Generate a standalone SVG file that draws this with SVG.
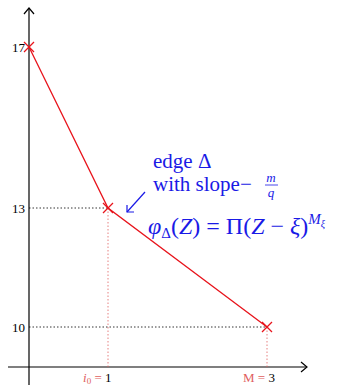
<svg xmlns="http://www.w3.org/2000/svg" width="346" height="385" viewBox="0 0 346 385">
<style>
.ax{stroke:#000;stroke-width:1.2;fill:none}
.dot{stroke:#000;stroke-width:0.8;stroke-dasharray:1.5 2;fill:none}
.rdot{stroke:#e06060;stroke-width:0.8;stroke-dasharray:1.5 2;fill:none}
.red{stroke:#e8141c;stroke-width:1.3;fill:none}
text{font-family:'Liberation Serif','DejaVu Serif',serif}
.tk{font-size:13px;fill:#000}
.bl{fill:#1a1ae6}
.it{font-style:italic}
</style>
<g id="connectors">
<line class="ax" x1="29" y1="8" x2="29" y2="385"/>
<polyline class="ax" points="24,14 29,8 34,14"/>
<line class="ax" x1="8" y1="367" x2="307" y2="367"/>
<polyline class="ax" points="301,362 307,367 301,372"/>
<line class="dot" x1="29" y1="208" x2="108" y2="208"/>
<line class="dot" x1="29" y1="327" x2="267" y2="327"/>
<line class="rdot" x1="108" y1="208" x2="108" y2="367"/>
<line class="rdot" x1="267" y1="327" x2="267" y2="367"/>
<polyline class="red" points="29,47 108,208 267,327"/>
<line stroke="#1a1ae6" stroke-width="1.2" x1="145" y1="192" x2="127" y2="212"/>
<polyline stroke="#1a1ae6" stroke-width="1.2" fill="none" points="127,205 127,212 134,212"/>
</g>
<g id="p17"><path class="red" d="M24,42 L34,52 M34,42 L24,52"/><text class="tk" x="25" y="52" text-anchor="end">17</text></g>
<g id="p13"><path class="red" d="M103,203 L113,213 M113,203 L103,213"/><text class="tk" x="25" y="213" text-anchor="end">13</text></g>
<g id="p10"><path class="red" d="M262,322 L272,332 M272,322 L262,332"/><text class="tk" x="25" y="332" text-anchor="end">10</text></g>
<g id="xlabels">
<text class="tk" x="83" y="382"><tspan fill="#e06060" font-style="italic">i</tspan><tspan fill="#e06060" font-size="9" dy="2">0</tspan><tspan fill="#e06060" dy="-2"> = </tspan><tspan>1</tspan></text>
<text class="tk" x="243" y="382"><tspan fill="#e06060">M = </tspan><tspan>3</tspan></text>
</g>
<g id="label">
<text class="bl" x="153" y="168" font-size="21">edge Δ</text>
<text class="bl" x="153" y="191" font-size="21">with slope−</text>
<text class="bl it" x="271" y="182" font-size="13" text-anchor="middle">m</text>
<line x1="265" y1="185" x2="278" y2="185" stroke="#1a1ae6" stroke-width="0.8"/>
<text class="bl it" x="271" y="197" font-size="13" text-anchor="middle">q</text>
<text class="bl" x="148" y="234" font-size="24"><tspan class="it">φ</tspan><tspan font-size="15" dy="4">Δ</tspan><tspan dy="-4">(</tspan><tspan class="it">Z</tspan><tspan>) = Π(</tspan><tspan class="it">Z</tspan><tspan> − </tspan><tspan class="it">ξ</tspan><tspan>)</tspan><tspan class="it" font-size="15" dy="-10">M</tspan><tspan class="it" font-size="10" dy="3">ξ</tspan></text>
</g>
</svg>
